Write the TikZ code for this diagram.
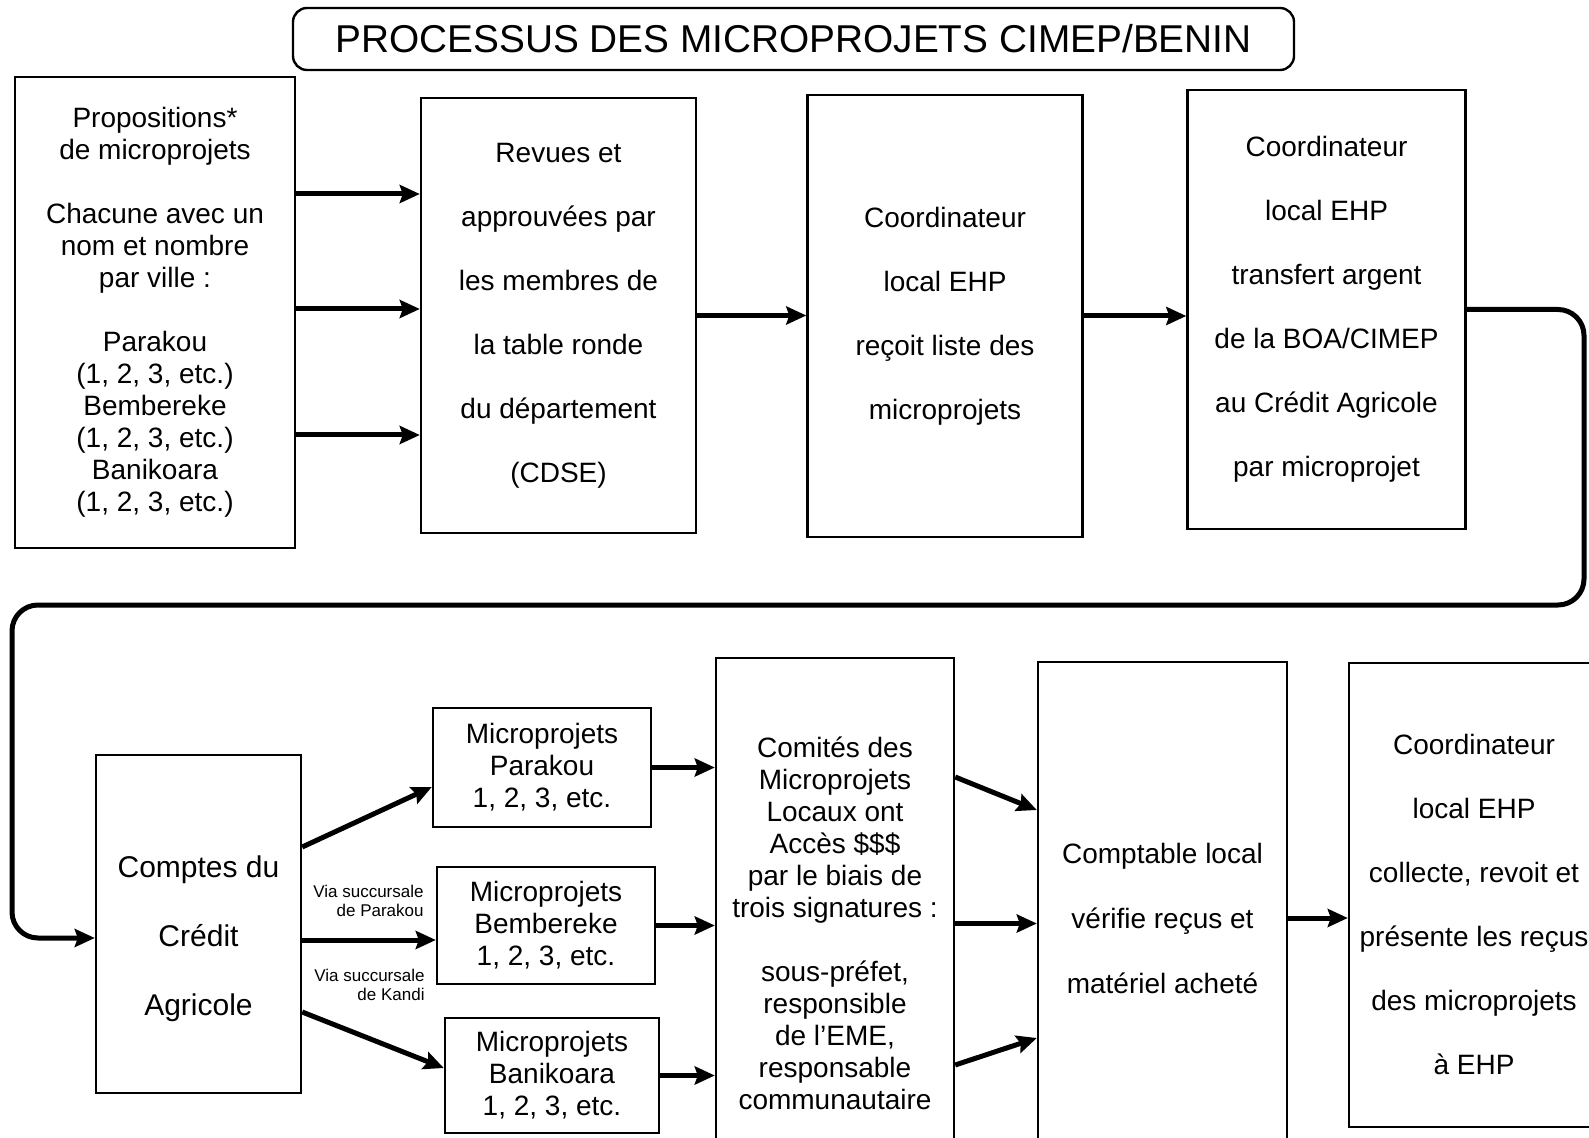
\documentclass[tikz,border=0pt]{standalone}
\usepackage{fontspec}
\setmainfont{Liberation Sans}
\usetikzlibrary{arrows.meta}

\tikzset{
  box/.style={draw,line width=1.2pt,align=center,inner sep=0pt},
  tight/.style={font=\fontsize{14}{16}\selectfont},
  spaced/.style={font=\fontsize{14}{32}\selectfont},
  via/.style={font=\fontsize{8.5}{9.5}\selectfont,align=right,inner sep=0pt},
  flow/.style={->,line width=2.5pt}
}

\begin{document}
\begin{tikzpicture}[x=0.5pt,y=-0.5pt,>={Stealth[length=10pt,width=9pt,inset=1.5pt]}]
\clip (0,0) rectangle (1589,1138);
\fill[white] (0,0) rectangle (1589,1138);

% title
\node[draw,line width=1.2pt,rounded corners=7pt,minimum width=500.5pt,minimum height=31pt,font=\fontsize{19.4}{22}\selectfont] (title) at (793.5,39) {PROCESSUS DES MICROPROJETS CIMEP/BENIN};

% top row
\node[box,tight,minimum width=140pt,minimum height=235.5pt] (prop) at (155,312.5) {Propositions*\\de microprojets\\[16pt]Chacune avec un\\nom et nombre\\par ville :\\[16pt]Parakou\\(1, 2, 3, etc.)\\Bembereke\\(1, 2, 3, etc.)\\Banikoara\\(1, 2, 3, etc.)};
\node[box,spaced,minimum width=137.5pt,minimum height=217.5pt] (revue) at (558.5,315.5) {Revues et\\approuvées par\\les membres de\\la table ronde\\du département\\(CDSE)};
\node[box,spaced,minimum width=137.5pt,minimum height=221pt] (liste) at (945,316) {Coordinateur\\local EHP\\reçoit liste des\\microprojets};
\node[box,spaced,minimum width=139pt,minimum height=219.5pt] (transf) at (1326.5,309.5) {Coordinateur\\local EHP\\transfert argent\\de la BOA/CIMEP\\au Crédit Agricole\\par microprojet};

% bottom row
\node[box,minimum width=102.5pt,minimum height=169pt] (credit) at (198.5,924) {};
\node[align=center,font=\fontsize{15}{34.5}\selectfont] (creditTxt) at ([yshift=-7.5pt]credit.center) {Comptes du\\Crédit\\Agricole};
\node[box,tight,minimum width=109pt,minimum height=59.5pt] (mpara) at (542,767.5) {Microprojets\\Parakou\\1, 2, 3, etc.};
\node[box,tight,minimum width=109pt,minimum height=58.5pt] (mbemb) at (546,925.5) {Microprojets\\Bembereke\\1, 2, 3, etc.};
\node[box,tight,minimum width=107pt,minimum height=57.5pt] (mbani) at (552,1075.5) {Microprojets\\Banikoara\\1, 2, 3, etc.};
\node[box,tight,minimum width=119pt,minimum height=265.5pt] (comite) at (835,923.5) {Comités des\\Microprojets\\Locaux ont\\Accès \$\$\$\\par le biais de\\trois signatures :\\[16pt]sous-préfet,\\responsible\\de l’EME,\\responsable\\communautaire};
\node[box,font=\fontsize{14}{32.5}\selectfont,minimum width=124.5pt,minimum height=256pt] (compta) at (1162.5,918) {Comptable local\\vérifie reçus et\\matériel acheté};
\node[box,minimum width=125pt,minimum height=232pt] (recus) at (1474,895) {};
\node[align=center,spaced] (recusTxt) at ([yshift=-4.5pt]recus.center) {Coordinateur\\local EHP\\collecte, revoit et\\présente les reçus\\des microprojets\\à EHP};

\node[via,anchor=east] (viaP) at (424,901) {Via succursale\\de Parakou};
\node[via,anchor=east] (viaK) at (425,985) {Via succursale\\de Kandi};

% arrows, top row
\path[flow] ([yshift=59.25pt]prop.east) edge ([yshift=60.75pt]revue.west);
\path[flow] ([yshift=1.75pt]prop.east) edge ([yshift=3.25pt]revue.west);
\path[flow] ([yshift=-61.25pt]prop.east) edge ([yshift=-59.75pt]revue.west);
\path[flow] (revue.east) edge (revue.east -| liste.west);
\path[flow] (liste.east) edge (liste.east -| transf.west);

% loop down to the second row
\coordinate (loopR) at (1584,605);
\coordinate (loopL) at (12,605);
\draw[flow,rounded corners=13pt] (transf.east) -| (loopR) -- (loopL) |- ([yshift=-7pt]credit.west);

% arrows, bottom row
\path[flow] ([yshift=38.5pt]credit.east) edge ([yshift=-9.75pt]mpara.west);
\path[flow] ([yshift=-8pt]credit.east) edge ([yshift=-7.25pt]mbemb.west);
\path[flow] ([yshift=-44pt]credit.east) edge ([yshift=3.75pt]mbani.west);
\path[flow] (mpara.east) edge (mpara.east -| comite.west);
\path[flow] (mbemb.east) edge (mbemb.east -| comite.west);
\path[flow] (mbani.east) edge (mbani.east -| comite.west);
\path[flow] ([yshift=73.25pt]comite.east) edge ([yshift=54pt]compta.west);
\path[flow] (comite.east) edge (comite.east -| compta.west);
\path[flow] ([yshift=-70.75pt]comite.east) edge ([yshift=-60pt]compta.west);
\path[flow] (compta.east) edge (compta.east -| recus.west);
\end{tikzpicture}
\end{document}
